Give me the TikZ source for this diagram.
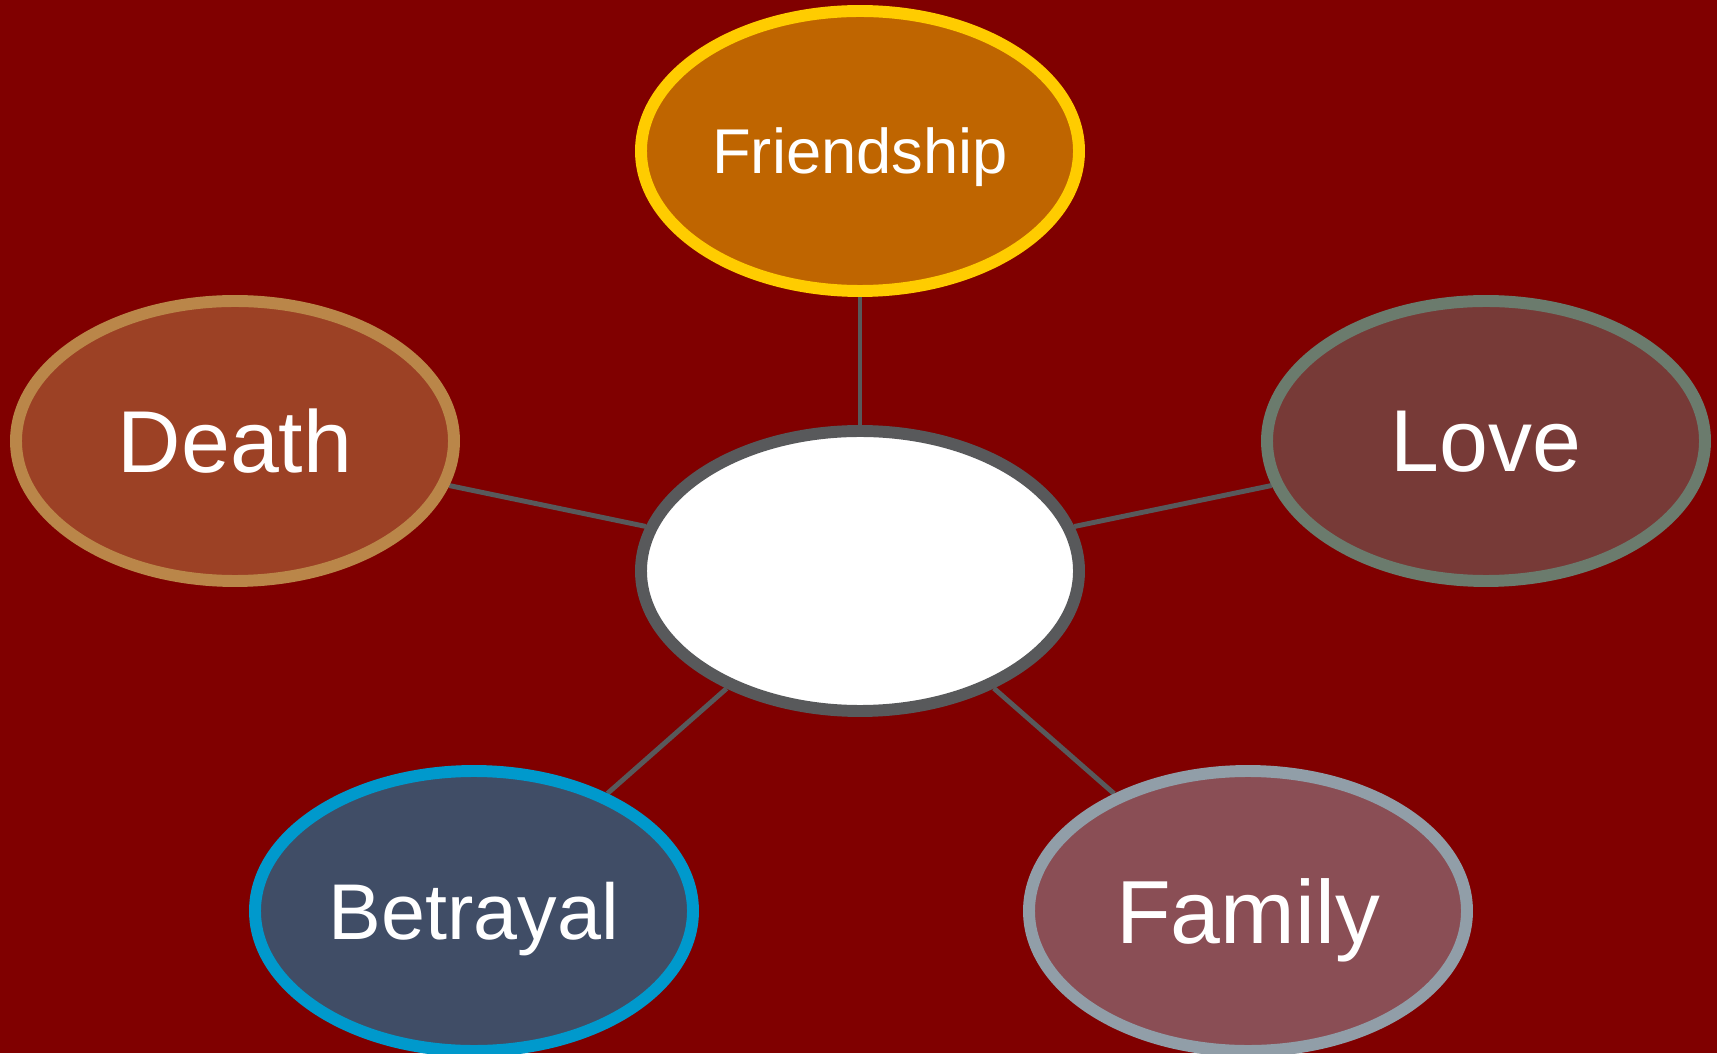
\documentclass[tikz,border=0pt]{standalone}
\usepackage{fontspec}
\setmainfont{Liberation Sans}
\usepackage{xcolor}
\usepackage{tikz}
\usetikzlibrary{shapes.geometric,backgrounds}
\definecolor{bgred}{HTML}{800000}
\definecolor{linkgray}{HTML}{58595B}
\definecolor{friendfill}{HTML}{BF6500}
\definecolor{friendline}{HTML}{FFCC00}
\definecolor{deathfill}{HTML}{9C4125}
\definecolor{deathline}{HTML}{BA8649}
\definecolor{lovefill}{HTML}{773A37}
\definecolor{loveline}{HTML}{6B7B6D}
\definecolor{betrayfill}{HTML}{404D66}
\definecolor{betrayline}{HTML}{0099CC}
\definecolor{familyfill}{HTML}{8A4E55}
\definecolor{familyline}{HTML}{919EA8}
\tikzstyle{topic}=[ellipse, line width=3.4pt, minimum width=4.38cm, minimum height=2.80cm,
  inner sep=0pt, text=white, text depth=0pt]
\tikzstyle{link}=[draw=linkgray, line width=1.4pt]

\begin{document}
\begin{tikzpicture}
\useasboundingbox (0,0) rectangle (17.17,10.53);
\node (hub) [topic, draw=linkgray, fill=white] at (8.60,4.82) {};
\node (friend) [topic, draw=friendline, fill=friendfill, font=\fontsize{18pt}{22pt}\selectfont] at (8.60,9.02) {Friendship};
\node (death) [topic, draw=deathline, fill=deathfill, font=\fontsize{25pt}{30pt}\selectfont] at (2.35,6.12) {Death};
\node (love) [topic, draw=loveline, fill=lovefill, font=\fontsize{25pt}{30pt}\selectfont] at (14.86,6.12) {Love};
\node (betray) [topic, draw=betrayline, fill=betrayfill, font=\fontsize{22.5pt}{27pt}\selectfont] at (4.74,1.42) {Betrayal};
\node (family) [topic, draw=familyline, fill=familyfill, font=\fontsize{25.5pt}{30pt}\selectfont] at (12.48,1.42) {Family};
\begin{scope}[on background layer]
\fill[bgred] (0,0) rectangle (17.17,10.53);
\draw[link] (hub)--(friend);
\draw[link] (hub)--(death);
\draw[link] (hub)--(love);
\draw[link] (hub)--(betray);
\draw[link] (hub)--(family);
\end{scope}
\end{tikzpicture}
\end{document}
